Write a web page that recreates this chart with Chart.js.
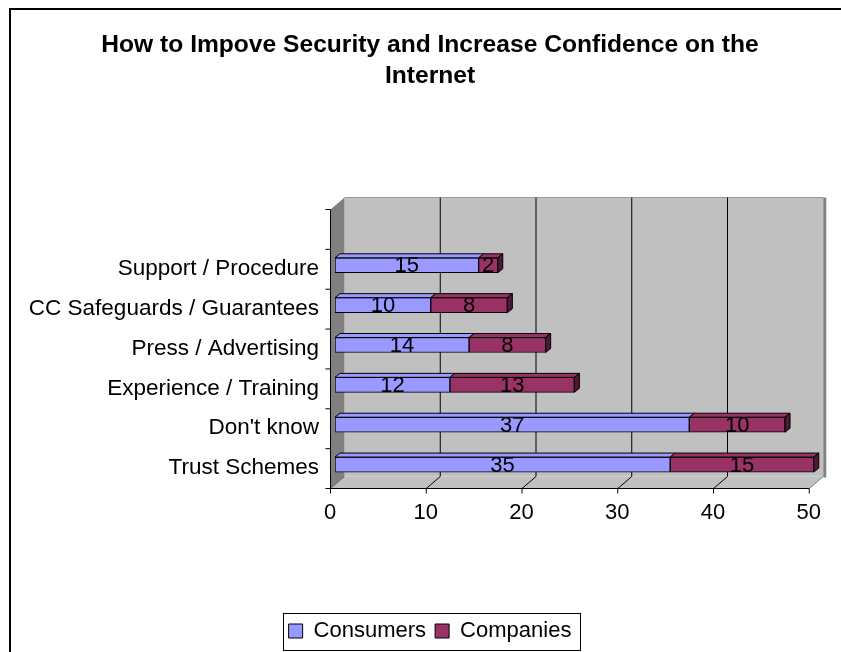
<!DOCTYPE html>
<html>
<head>
<meta charset="utf-8">
<title>How to Impove Security and Increase Confidence on the Internet</title>
<script src="https://cdn.jsdelivr.net/npm/chart.js@4.4.1/dist/chart.umd.min.js"></script>
<style>
  html, body { margin: 0; padding: 0; background: #fff; }
  #wrap { width: 841px; height: 652px; }
</style>
</head>
<body>
<div id="wrap"><canvas id="chart" width="841" height="652"></canvas></div>
<script>
// ── Data ──────────────────────────────────────
// bottom to top, last slot is the empty row at the top of the axis
const categories = ['Trust Schemes', "Don't know", 'Experience / Training', 'Press / Advertising',
                    'CC Safeguards / Guarantees', 'Support / Procedure', ''];
const consumers  = [35, 37, 12, 14, 10, 15, null];
const companies  = [15, 10, 13, 8, 8, 2, null];
const xTicks     = [0, 10, 20, 30, 40, 50];

const FONT = "'Liberation Sans', Arial, sans-serif";
const COLORS = { consumers: '#9999ff', companies: '#993366' };
const SIDE   = ['#5c5cb3', '#4d1a33'];

// offsets of the front / back planes of the 3D box, relative to the bar plane
const FRONT = { dx: -5, dy: 3.5 };
const BACK  = { dx: 9,  dy: -8.5 };
const DEPTH = { dx: 5,  dy: -4 };

function poly(ctx, pts, fill, stroke) {
  ctx.beginPath();
  pts.forEach((p, i) => i ? ctx.lineTo(p[0], p[1]) : ctx.moveTo(p[0], p[1]));
  ctx.closePath();
  if (fill)   { ctx.fillStyle = fill; ctx.fill(); }
  if (stroke) { ctx.strokeStyle = stroke; ctx.stroke(); }
}

function line(ctx, pts, color) {
  ctx.beginPath();
  pts.forEach((p, i) => i ? ctx.lineTo(p[0], p[1]) : ctx.moveTo(p[0], p[1]));
  ctx.strokeStyle = color;
  ctx.stroke();
}

// ── 3D box, bar faces, labels ─────────────────
const box3d = {
  id: 'box3d',
  afterLayout(chart) {
    // title + legend are centred on the whole (cropped) frame
    [chart.titleBlock, chart.legend].forEach(b => { b.left = 9; b.right = 851; b.width = 842; });
  },
  beforeDraw(chart) {
    const ctx = chart.ctx;
    ctx.save();
    ctx.fillStyle = '#fff';
    ctx.fillRect(0, 0, chart.width, chart.height);
    ctx.lineWidth = 2;
    line(ctx, [[10, chart.height], [10, 9], [chart.width, 9]], '#000');
    ctx.restore();
  },
  beforeDatasetsDraw(chart) {
    const ctx = chart.ctx;
    const { left, right, top, bottom } = chart.chartArea;
    const xs = chart.scales.x, ys = chart.scales.y;
    const f = (x, y) => [x + FRONT.dx, y + FRONT.dy];
    const k = (x, y) => [x + BACK.dx, y + BACK.dy];

    ctx.save();
    ctx.lineWidth = 1;
    ctx.translate(0.5, 0.5);

    // walls and floor
    poly(ctx, [k(left, top), k(right, top), k(right, bottom), k(left, bottom)], '#c0c0c0');
    poly(ctx, [f(left, top), k(left, top), k(left, bottom), f(left, bottom)], '#808080');
    poly(ctx, [f(left, bottom), f(right, bottom), k(right, bottom), k(left, bottom)], '#c0c0c0');
    ctx.fillStyle = '#808080';
    ctx.fillRect(k(right, top)[0], k(right, top)[1], 3, bottom - top + 1);
    line(ctx, [k(left, top), k(right, top)], '#999');
    line(ctx, [k(right, bottom), f(right, bottom)], '#808080');
    line(ctx, [k(left, bottom), f(left, bottom)], '#666');

    // gridlines on back wall, running down over the floor
    xs.ticks.forEach(t => {
      if (t.value === xs.min || t.value === xs.max) return;
      const px = xs.getPixelForValue(t.value);
      line(ctx, [k(px, top), k(px, bottom), f(px, bottom)], '#000');
    });

    // front axes
    line(ctx, [f(left, top), f(left, bottom), f(right, bottom)], '#000');
    xs.ticks.forEach(t => {
      const p = f(xs.getPixelForValue(t.value), bottom);
      line(ctx, [p, [p[0], p[1] + 5]], '#000');
    });
    const slot = Math.abs(ys.getPixelForValue(1) - ys.getPixelForValue(0));
    categories.forEach((c, i) => {
      const p = f(left, ys.getPixelForValue(i) + slot / 2);
      line(ctx, [[p[0] - 5, p[1]], p], '#000');
    });
    const p0 = f(left, top);
    line(ctx, [[p0[0] - 5, p0[1]], p0], '#000');
    ctx.restore();
  },
  afterDatasetsDraw(chart) {
    const ctx = chart.ctx;
    const sets = chart.data.datasets;
    ctx.save();
    ctx.lineWidth = 1;
    categories.forEach((c, i) => {
      let last = -1;
      sets.forEach((d, di) => { if (d.data[i]) last = di; });
      sets.forEach((d, di) => {
        if (!d.data[i]) return;
        const el = chart.getDatasetMeta(di).data[i];
        const { x, y, base, height } = el.getProps(['x', 'y', 'base', 'height'], true);
        const t = y - height / 2, b = y + height / 2;
        poly(ctx, [[base, t], [base + DEPTH.dx, t + DEPTH.dy], [x + DEPTH.dx, t + DEPTH.dy], [x, t]],
             d.backgroundColor, '#000');
        if (di === last) {
          poly(ctx, [[x, t], [x + DEPTH.dx, t + DEPTH.dy], [x + DEPTH.dx, b + DEPTH.dy], [x, b]],
               SIDE[di], '#000');
        }
      });
    });

    // value labels
    ctx.font = `22px ${FONT}`;
    ctx.fillStyle = '#000';
    ctx.textAlign = 'center';
    ctx.textBaseline = 'middle';
    sets.forEach((d, di) => {
      chart.getDatasetMeta(di).data.forEach((el, i) => {
        if (!d.data[i]) return;
        const { x, y, base } = el.getProps(['x', 'y', 'base'], true);
        ctx.fillText(String(d.data[i]), (x + base) / 2, y + 1);
      });
    });
    ctx.restore();
  },
  afterDraw(chart) {
    const hb = chart.legend.legendHitBoxes;
    if (!hb || !hb.length) return;
    const ctx = chart.ctx;
    const l = hb[0].left - 6;
    const r = hb[hb.length - 1].left + hb[hb.length - 1].width + 8;
    const t = hb[0].top - 7;
    const b = hb[0].top + hb[0].height + 8;
    ctx.save();
    ctx.lineWidth = 1;
    ctx.strokeStyle = '#000';
    ctx.strokeRect(Math.round(l) + 0.5, Math.round(t) + 0.5, Math.round(r - l), Math.round(b - t));
    ctx.restore();
  }
};

new Chart(document.getElementById('chart'), {
  type: 'bar',
  data: {
    labels: categories,
    datasets: [
      {
        label: 'Consumers',
        data: consumers,
        backgroundColor: COLORS.consumers,
        borderColor: '#000',
        borderWidth: 1,
        borderSkipped: false,
        barThickness: 15,
      },
      {
        label: 'Companies',
        data: companies,
        backgroundColor: COLORS.companies,
        borderColor: '#000',
        borderWidth: 1,
        borderSkipped: false,
        barThickness: 15,
      }
    ]
  },
  options: {
    indexAxis: 'y',
    responsive: false,
    animation: false,
    layout: { padding: { left: 0, right: 24, top: 0, bottom: 0 } },
    plugins: {
      title: {
        display: true,
        text: ['How to Impove Security and Increase Confidence on the', 'Internet'],
        color: '#000',
        font: { family: FONT, size: 24.6, weight: 'bold', lineHeight: '31px' },
        padding: { top: 30, bottom: 113.5 }
      },
      legend: {
        position: 'bottom',
        labels: {
          color: '#000',
          font: { family: FONT, size: 22 },
          boxWidth: 14,
          boxHeight: 14,
          padding: 9
        }
      },
      tooltip: { enabled: false }
    },
    scales: {
      x: {
        stacked: true,
        min: 0, max: 50,
        ticks: { stepSize: 10, padding: 15, labelOffset: FRONT.dx, color: '#000', font: { family: FONT, size: 22 } },
        grid: { display: false, drawTicks: false },
        border: { display: false },
        afterFit: s => { s.height = 126.5; }
      },
      y: {
        stacked: true,
        reverse: true,
        ticks: { padding: 16, labelOffset: FRONT.dy, autoSkip: false, color: '#000', font: { family: FONT, size: 22.5 } },
        grid: { display: false, drawTicks: false },
        border: { display: false },
        afterFit: s => { s.width = 335; }
      }
    }
  },
  plugins: [box3d]
});
</script>
</body>
</html>
